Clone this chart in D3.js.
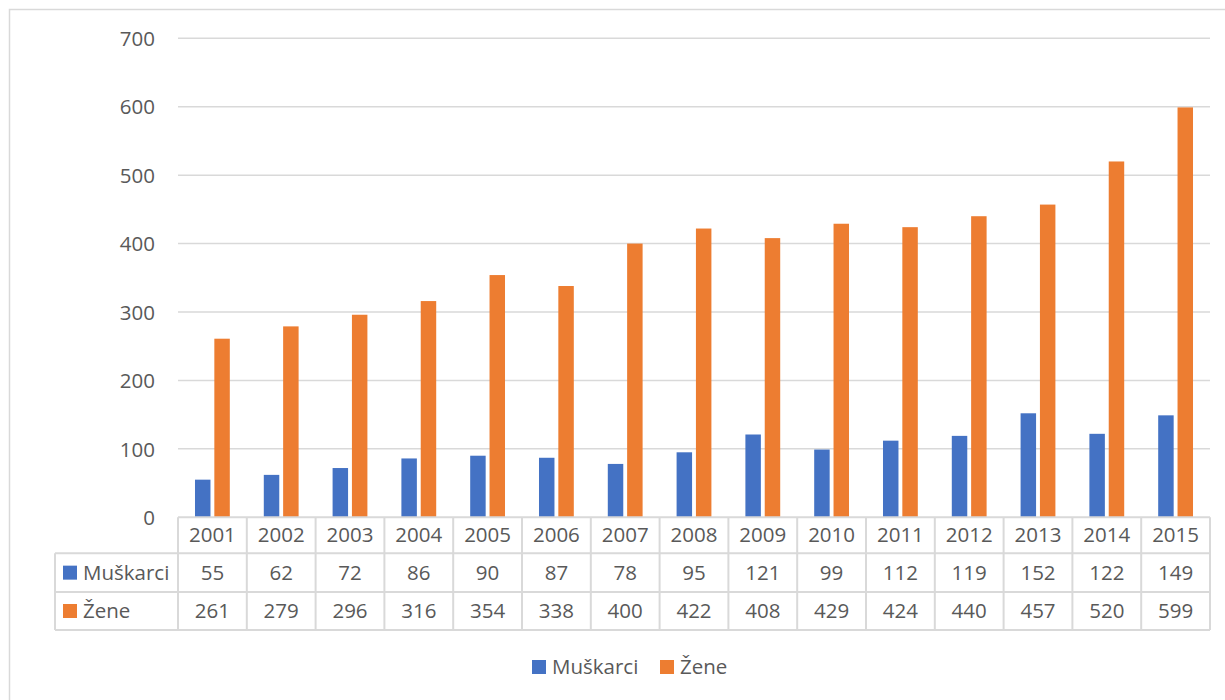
<!DOCTYPE html>
<html>
<head>
<meta charset="utf-8">
<script src="https://cdn.jsdelivr.net/npm/d3@7"></script>
<style>
  body { margin: 0; background: #fff; }
  text { font-family: "Open Sans", "Liberation Sans", sans-serif; fill: #595959; }
</style>
</head>
<body>
<svg width="1225" height="700"></svg>
<script>
const years = ['2001','2002','2003','2004','2005','2006','2007','2008','2009','2010','2011','2012','2013','2014','2015'];
const muskarci = [55, 62, 72, 86, 90, 87, 78, 95, 121, 99, 112, 119, 152, 122, 149];
const zene = [261, 279, 296, 316, 354, 338, 400, 422, 408, 429, 424, 440, 457, 520, 599];
const seriesNames = ['Muškarci', 'Žene'];
const seriesColors = ['#4472C4', '#ED7D31'];
const yTicks = [0, 100, 200, 300, 400, 500, 600, 700];

const svg = d3.select('svg');
const grid = '#d9d9d9';
const fs = 20.5;

// chart frame (only left and top edges visible)
svg.append('rect').attr('x', 9.5).attr('y', 9.5).attr('width', 1300).attr('height', 800)
  .attr('fill', 'none').attr('stroke', grid).attr('stroke-width', 1.5);

const pLeft = 178, pRight = 1210, pTop = 38.3, pBottom = 517.3;
const x = d3.scaleBand().domain(years).range([pLeft, pRight]);
const y = d3.scaleLinear().domain([0, 700]).range([pBottom, pTop]);
const bw = x.bandwidth();
const xs = d3.scaleBand().domain(seriesNames).range([0.247 * bw, 0.753 * bw]).paddingInner(0.2);

// gridlines
svg.append('g').selectAll('line').data(yTicks.filter(d => d > 0)).join('line')
  .attr('x1', pLeft).attr('x2', pRight)
  .attr('y1', d => y(d)).attr('y2', d => y(d))
  .attr('stroke', grid).attr('stroke-width', 1.5);

// y axis labels
const yAxis = d3.axisLeft(y).tickValues(yTicks).tickSize(0).tickPadding(0);
const ya = svg.append('g').attr('transform', 'translate(155,0)').call(yAxis);
ya.select('.domain').remove();
ya.selectAll('text').attr('font-size', fs).attr('font-family', null).attr('fill', '#595959').attr('dy', '0.35em');

// bars
const data = [muskarci, zene];
data.forEach((vals, si) => {
  svg.append('g').selectAll('rect').data(vals).join('rect')
    .attr('x', (d, i) => x(years[i]) + xs(seriesNames[si]))
    .attr('width', xs.bandwidth())
    .attr('y', d => y(d))
    .attr('height', d => y(0) - y(d))
    .attr('fill', seriesColors[si]);
});

// data table
const rowY = [pBottom, 553.3, 592, 630];
const tLeft = 55;
const tg = svg.append('g').attr('stroke', grid).attr('stroke-width', 2);
tg.append('line').attr('x1', pLeft).attr('x2', pRight).attr('y1', rowY[0]).attr('y2', rowY[0]);
for (let r = 1; r < 4; r++) {
  tg.append('line').attr('x1', tLeft).attr('x2', pRight).attr('y1', rowY[r]).attr('y2', rowY[r]);
}
tg.append('line').attr('x1', tLeft).attr('x2', tLeft).attr('y1', rowY[1]).attr('y2', rowY[3]);
years.concat(['end']).forEach((yr, i) => {
  const xx = i < years.length ? x(yr) : pRight;
  tg.append('line').attr('x1', xx).attr('x2', xx).attr('y1', rowY[0]).attr('y2', rowY[3]);
});

svg.append('g').selectAll('text').data(years).join('text')
  .attr('x', d => x(d) + bw / 2).attr('y', (rowY[0] + rowY[1]) / 2)
  .attr('dy', '0.35em').attr('text-anchor', 'middle').attr('font-size', fs).text(d => d);

data.forEach((vals, si) => {
  const cy = (rowY[si + 1] + rowY[si + 2]) / 2;
  svg.append('g').selectAll('text').data(vals).join('text')
    .attr('x', (d, i) => x(years[i]) + bw / 2).attr('y', cy)
    .attr('dy', '0.35em').attr('text-anchor', 'middle').attr('font-size', fs).text(d => d);
  svg.append('rect').attr('x', 63).attr('y', cy - 7).attr('width', 14).attr('height', 14).attr('fill', seriesColors[si]);
  svg.append('text').attr('x', 83).attr('y', cy).attr('dy', '0.35em').attr('font-size', fs).text(seriesNames[si]);
});

// legend
const legX = [532, 660];
seriesNames.forEach((name, i) => {
  svg.append('rect').attr('x', legX[i]).attr('y', 660).attr('width', 14).attr('height', 14).attr('fill', seriesColors[i]);
  svg.append('text').attr('x', legX[i] + 20).attr('y', 667).attr('dy', '0.35em').attr('font-size', fs).text(name);
});
</script>
</body>
</html>
